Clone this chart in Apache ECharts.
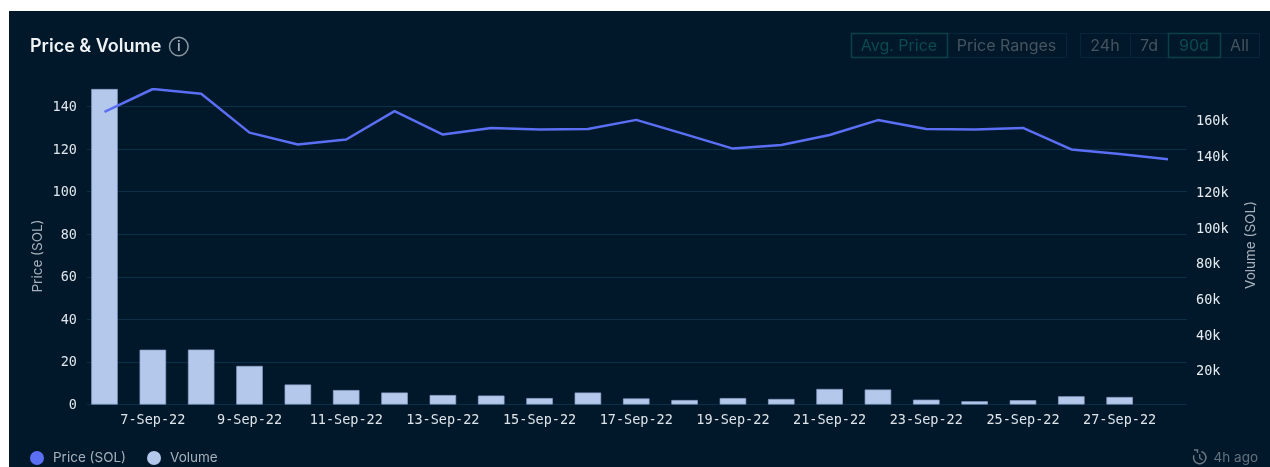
<!DOCTYPE html>
<html>
<head>
<meta charset="utf-8">
<title>Price & Volume</title>
<script src="https://cdn.jsdelivr.net/npm/echarts@6/dist/echarts.min.js"></script>
<style>
    html, body { margin: 0; padding: 0; background: #fff; }
    #panel { position: absolute; left: 9px; top: 11px; width: 1261px; height: 456px; background: #01182b; }
    #chart { position: absolute; left: 0; top: 0; width: 1270px; height: 467px; }
</style>
</head>
<body>
<div id="panel"></div>
<div id="chart"></div>
<script>
var categories = ['6-Sep-22', '7-Sep-22', '8-Sep-22', '9-Sep-22', '10-Sep-22', '11-Sep-22', '12-Sep-22', '13-Sep-22',
    '14-Sep-22', '15-Sep-22', '16-Sep-22', '17-Sep-22', '18-Sep-22', '19-Sep-22', '20-Sep-22', '21-Sep-22',
    '22-Sep-22', '23-Sep-22', '24-Sep-22', '25-Sep-22', '26-Sep-22', '27-Sep-22', '28-Sep-22'];
var priceValues = [137.4, 148.2, 146, 127.7, 122.1, 124.5, 137.8, 126.8, 129.9, 129.2, 129.4, 133.7,
    127, 120.2, 121.9, 126.6, 133.6, 129.4, 129.2, 129.9, 119.8, 117.7, 115.2];
var volumeValues = [176800, 30700, 30800, 21600, 11200, 8100, 6700, 5300, 5000, 3600, 6700, 3400,
    2500, 3600, 3100, 8700, 8400, 2700, 1800, 2400, 4600, 4200, null];
var labelledDays = [1, 3, 5, 7, 9, 11, 13, 15, 17, 19, 21];

var monoFont = '"DejaVu Sans Mono", monospace';
var uiFont = 'Inter, "Noto Sans", sans-serif';

var chart = echarts.init(document.getElementById('chart'));

function pair(list) {
    return list.map(function (v, i) {
        return [i, v];
    });
}

function button(x, w, label, on) {
    return [
        {
            type: 'rect',
            shape: { x: x + 0.5, y: 33.5, width: w, height: 24 },
            style: { fill: 'transparent', stroke: on ? '#0a4148' : '#08263a', lineWidth: on ? 1.5 : 1 },
            z: on ? 12 : 11
        },
        {
            type: 'text',
            x: x + w / 2,
            y: 46.5,
            style: {
                text: label,
                fill: on ? '#0b4a4e' : '#45545f',
                font: '16px ' + uiFont,
                align: 'center',
                verticalAlign: 'middle'
            },
            z: 13
        }
    ];
}

var graphics = [
    { type: 'circle', shape: { cx: 178.8, cy: 46.5, r: 9.3 }, style: { fill: 'transparent', stroke: '#8b97a1', lineWidth: 1.5 } },
    { type: 'text', x: 178.8, y: 47, style: { text: 'i', fill: '#a4aeb6', font: '600 14px ' + uiFont, align: 'center', verticalAlign: 'middle' } },
    // clock next to the freshness note
    { type: 'arc', shape: { cx: 1199.7, cy: 457.5, r: 6.2, startAngle: -1.3, endAngle: 3.5 }, style: { fill: 'none', stroke: '#6b7882', lineWidth: 1.5 } },
    { type: 'polyline', shape: { points: [[1194, 450], [1197.5, 450], [1197.5, 453]] }, style: { fill: 'none', stroke: '#6b7882', lineWidth: 1.4 } },
    { type: 'polyline', shape: { points: [[1199.7, 454], [1199.7, 458], [1202.5, 460]] }, style: { fill: 'none', stroke: '#6b7882', lineWidth: 1.3 } },
    { type: 'text', x: 1258, y: 458, style: { text: '4h ago', fill: '#64727d', font: '13.5px ' + uiFont, align: 'right', verticalAlign: 'middle' } },
    { type: 'text', x: 38, y: 256, rotation: Math.PI / 2, style: { text: 'Price (SOL)', fill: '#a7b1bb', font: '13.5px ' + uiFont, align: 'center', verticalAlign: 'middle' } },
    { type: 'text', x: 1251, y: 245, rotation: Math.PI / 2, style: { text: 'Volume (SOL)', fill: '#a7b1bb', font: '13.5px ' + uiFont, align: 'center', verticalAlign: 'middle' } }
]
    .concat(button(851, 96, 'Avg. Price', true))
    .concat(button(947, 119, 'Price Ranges', false))
    .concat(button(1080, 50, '24h', false))
    .concat(button(1130, 38, '7d', false))
    .concat(button(1168, 52, '90d', true))
    .concat(button(1220, 39, 'All', false));

var option = {
    animation: false,
    title: {
        text: 'Price & Volume',
        left: 30,
        top: 38,
        padding: 0,
        textStyle: { color: '#eef2f5', fontFamily: uiFont, fontSize: 18, fontWeight: 600 }
    },
    legend: {
        left: 30,
        top: 451,
        padding: 0,
        itemWidth: 14,
        itemHeight: 14,
        itemGap: 21,
        icon: 'circle',
        itemStyle: { borderWidth: 0 },
        textStyle: { color: '#a7b1bb', fontFamily: uiFont, fontSize: 13.5, padding: [0, 0, 0, 4] },
        data: ['Price (SOL)', 'Volume']
    },
    grid: { left: 87, right: 83, top: 89, height: 315.5 },
    xAxis: {
        type: 'value',
        min: -0.362,
        max: 22.393,
        splitLine: { show: false },
        axisLine: { show: false },
        axisTick: { show: false },
        axisLabel: {
            customValues: labelledDays,
            formatter: function (v) {
                return categories[v];
            },
            color: '#dfe5ea',
            fontFamily: monoFont,
            fontSize: 13.5,
            margin: 9
        }
    },
    yAxis: [
        {
            type: 'value',
            min: 0,
            max: 148.2,
            interval: 20,
            axisLine: { show: false },
            axisTick: { show: false },
            splitLine: { showMaxLine: false, lineStyle: { color: '#0b2f47', width: 1 } },
            axisLabel: {
                showMaxLabel: false,
                color: '#dfe5ea',
                fontFamily: monoFont,
                fontSize: 13.5,
                verticalAlign: 'top',
                lineHeight: 2,
                margin: 10
            }
        },
        {
            type: 'value',
            min: 0,
            max: 176800,
            interval: 20000,
            position: 'right',
            axisLine: { show: false },
            axisTick: { show: false },
            splitLine: { show: false },
            axisLabel: {
                showMinLabel: false,
                showMaxLabel: false,
                formatter: function (v) {
                    return v / 1000 + 'k';
                },
                color: '#e6ebef',
                fontFamily: monoFont,
                fontSize: 13.5,
                verticalAlign: 'top',
                lineHeight: 6,
                margin: 9
            }
        }
    ],
    series: [
        {
            name: 'Volume',
            type: 'bar',
            yAxisIndex: 1,
            barWidth: 26.5,
            itemStyle: { color: '#b3c8ea', borderColor: '#8ea4ca', borderWidth: 0.7 },
            data: pair(volumeValues)
        },
        {
            name: 'Price (SOL)',
            type: 'line',
            yAxisIndex: 0,
            showSymbol: false,
            itemStyle: { color: '#5b6ff5' },
            lineStyle: { color: '#5b6ff5', width: 2.5 },
            data: pair(priceValues)
        }
    ],
    graphic: graphics
};

chart.setOption(option);
</script>
</body>
</html>
